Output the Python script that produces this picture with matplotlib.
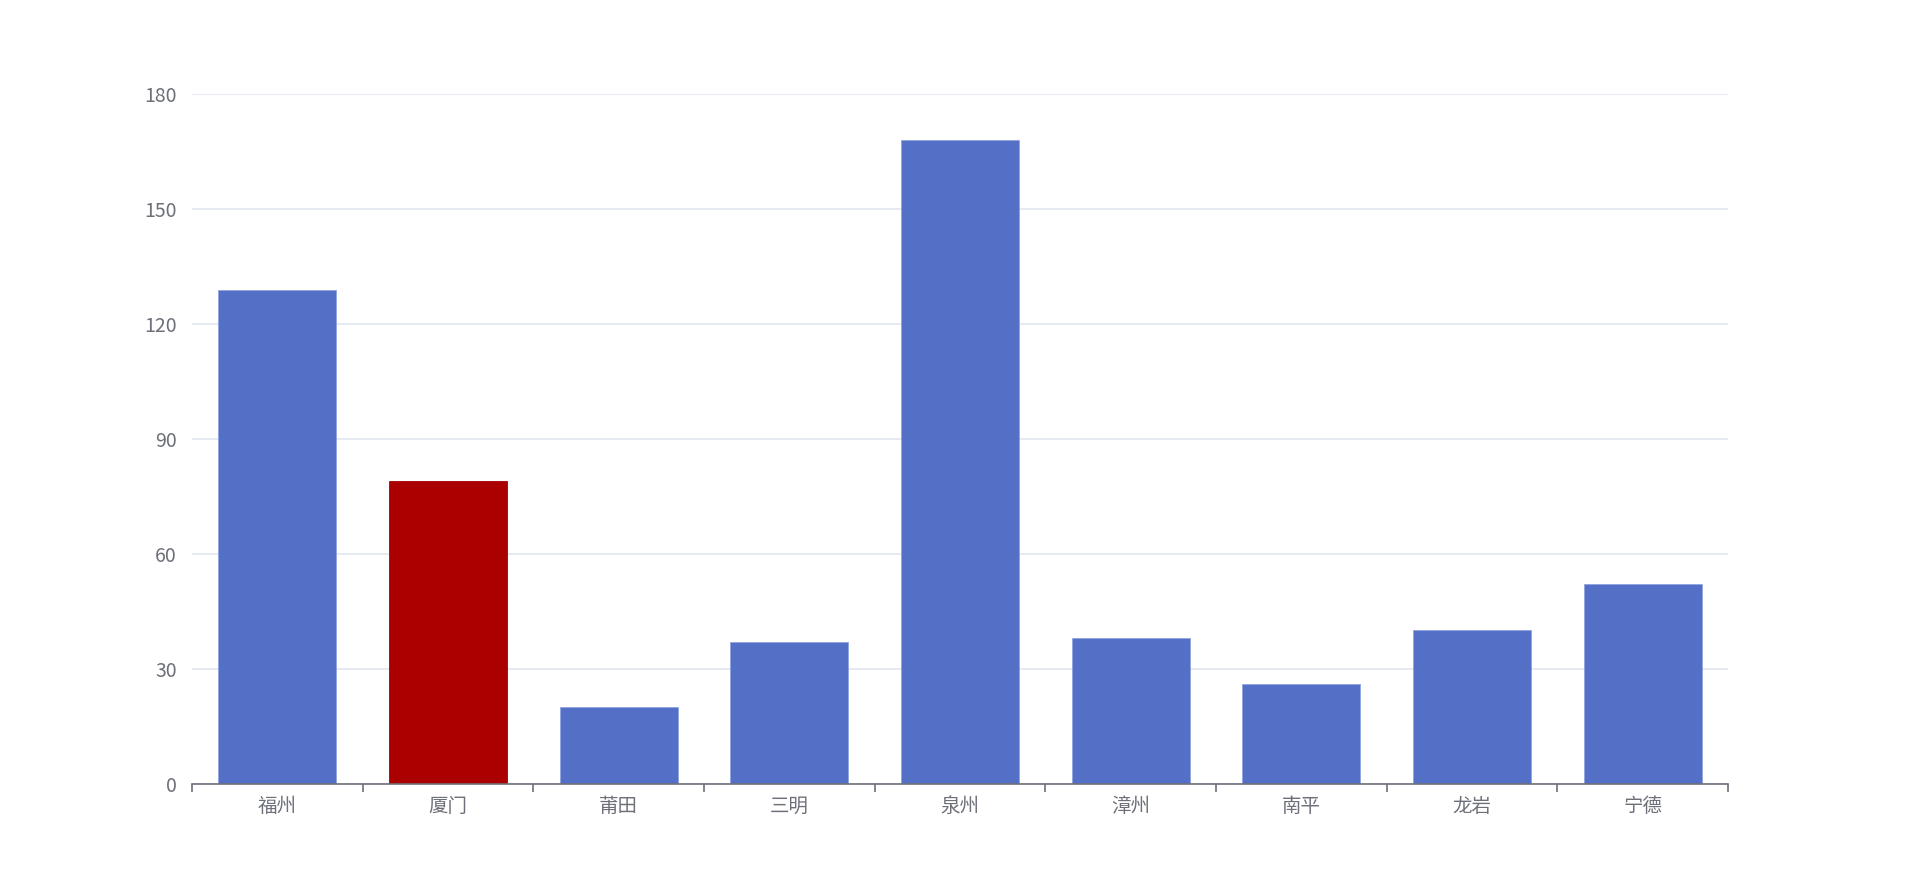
import matplotlib
matplotlib.use("Agg")
import matplotlib.pyplot as plt
import numpy as np

plt.rcParams['font.family'] = ['Noto Sans CJK SC', 'DejaVu Sans']

cities = ["福州", "厦门", "莆田", "三明", "泉州", "漳州", "南平", "龙岩", "宁德"]
values = [129, 79, 20, 37, 168, 38, 26, 40, 52]
highlight = "厦门"
yticks = [0, 30, 60, 90, 120, 150, 180]

blue = "#5470c6"
red = "#aa0000"
colors = [red if c == highlight else blue for c in cities]

fig = plt.figure(figsize=(19.2, 8.92), dpi=100)
ax = fig.add_axes([0.1, 0.1216, 0.8, 0.8943 - 0.1216])

x = np.arange(len(cities))
ax.bar(x, values, width=0.69, color=colors, edgecolor="#8fa3e0", linewidth=0.6, zorder=3)
for patch, c in zip(ax.patches, cities):
    if c == highlight:
        patch.set_edgecolor(red)

ax.set_xlim(-0.5, len(cities) - 0.5)
ax.set_ylim(0, 180)
ax.set_yticks(yticks)
ax.set_yticklabels([str(v) for v in yticks])
ax.grid(axis="y", color="#E0E6F1", linewidth=1.2, zorder=0)
ax.tick_params(axis="y", length=0, pad=11, labelsize=14, labelcolor="#6E7079")

ax.set_xticks(x)
ax.set_xticklabels(cities)
ax.set_xticks(np.arange(len(cities) + 1) - 0.5, minor=True)
ax.tick_params(axis="x", which="major", length=0, pad=9, labelsize=14, labelcolor="#6E7079")
ax.tick_params(axis="x", which="minor", length=6, width=1.2, color="#6E7079", direction="out")

for s in ["top", "right", "left"]:
    ax.spines[s].set_visible(False)
ax.spines["bottom"].set_color("#6E7079")
ax.spines["bottom"].set_linewidth(1.2)
ax.spines["bottom"].set_zorder(4)

fig.savefig("out.png", dpi=100, facecolor="white")
